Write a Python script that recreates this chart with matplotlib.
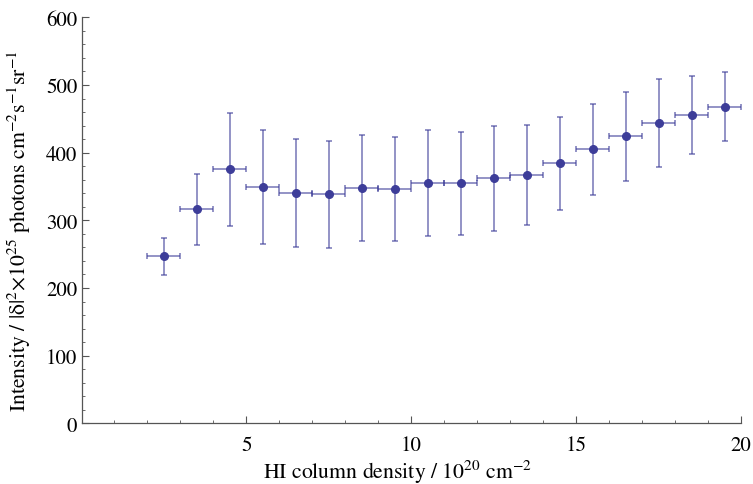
import matplotlib
matplotlib.use("Agg")
import matplotlib.pyplot as plt
import numpy as np
from matplotlib.ticker import MultipleLocator, FixedLocator

plt.rcParams['font.family'] = ['STIXGeneral', 'DejaVu Serif']
plt.rcParams['mathtext.fontset'] = 'stix'

# HI column density bins (10^20 cm^-2)
nh = [2.5, 3.5, 4.5, 5.5, 6.5, 7.5, 8.5, 9.5, 10.5,
      11.5, 12.5, 13.5, 14.5, 15.5, 16.5, 17.5, 18.5, 19.5]
nh_err = [0.5] * 18
intensity = [246.6, 316.6, 375.5, 349.5, 340.7, 338.2, 348.0, 346.0, 354.9,
             355.4, 361.8, 367.2, 384.8, 404.9, 424.5, 444.1, 455.9, 468.1]
err_hi = [273.5, 369.0, 458.8, 433.3, 420.0, 417.1, 426.5, 423.0, 433.0,
          430.9, 438.7, 440.2, 452.9, 471.6, 490.2, 509.3, 513.7, 519.1]
err_lo = [219.6, 264.2, 291.6, 265.7, 260.8, 259.3, 269.6, 269.1, 276.7,
          278.9, 284.3, 293.1, 315.7, 337.3, 358.3, 378.4, 397.5, 416.6]

y = np.array(intensity)
yerr = [y - np.array(err_lo), np.array(err_hi) - y]

col = (0.24, 0.24, 0.6)

fig = plt.figure(figsize=(7.53, 4.85), dpi=100)
ax = fig.add_axes([81.5 / 753, 60.7 / 485, 659.5 / 753, 406 / 485])

ax.errorbar(nh, y, xerr=nh_err, yerr=yerr, fmt='none', ecolor=col,
            elinewidth=1.2, capsize=2.5, capthick=1.2, alpha=0.65)
ax.plot(nh, y, 'o', color=col, markersize=5.5, zorder=3)

ax.set_xlim(0, 20)
ax.set_ylim(0, 600)

for s in ['top', 'right']:
    ax.spines[s].set_visible(False)
for s in ['left', 'bottom']:
    ax.spines[s].set_color('#555555')
    ax.spines[s].set_linewidth(0.9)

ax.xaxis.set_major_locator(FixedLocator([5, 10, 15, 20]))
ax.xaxis.set_minor_locator(MultipleLocator(1))
ax.yaxis.set_major_locator(MultipleLocator(100))
ax.yaxis.set_minor_locator(MultipleLocator(20))
ax.tick_params(which='both', direction='in', color='#555555',
               labelsize=15, pad=3)
ax.tick_params(axis='x', which='both', pad=8.5)
ax.tick_params(which='major', length=5, width=0.8)
ax.tick_params(which='minor', length=2.5, width=0.6)

ax.set_xlabel('HI column density / 10$^{20}$ cm$^{-2}$', fontsize=15.7)
ax.set_ylabel('Intensity / |δ|$^{2}$×10$^{25}$ photons cm$^{-2}$s$^{-1}$sr$^{-1}$',
              fontsize=15.7)
ax.xaxis.set_label_coords(0.48, -0.086)
ax.yaxis.set_label_coords(-0.074, 0.475)

fig.savefig('out.png', dpi=100)
